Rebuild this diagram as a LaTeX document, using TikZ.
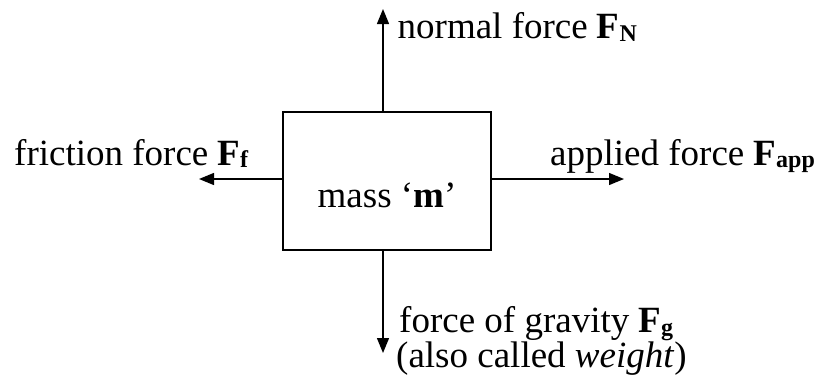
\documentclass[tikz,border=0pt]{standalone}
\usepackage{fontspec}
\setmainfont{Liberation Serif}
\usetikzlibrary{arrows.meta}
\newcommand{\forcesym}[1]{\textbf{F}\raisebox{-2.5pt}{\fontsize{24}{24}\selectfont\bfseries #1}}
\begin{document}
\begin{tikzpicture}[x=1pt,y=-1pt,
  lbl/.style={inner sep=0pt,anchor=base west,font=\fontsize{37}{31.7}\selectfont},
  force/.style={line width=1.3pt,-{Triangle[length=15pt,width=12pt]}},
  massbox/.style={draw,line width=1.3pt,minimum width=208pt,minimum height=138pt,inner sep=0pt}]
\useasboundingbox (0,0) rectangle (815,386);
\node[massbox] (m) at (387,181) {};
\node[lbl,anchor=base] (mlabel) at (387,207) {mass ‘\textbf{m}’};
\coordinate (tipN) at (383,9);
\coordinate (tipG) at (383,353);
\coordinate (tipF) at (199,179);
\coordinate (tipA) at (624,179);
\draw[force] ([xshift=-4pt]m.north) -- (tipN);
\draw[force] ([xshift=-4pt]m.south) -- (tipG);
\draw[force] ([yshift=2pt]m.west) -- (tipF);
\draw[force] ([yshift=2pt]m.east) -- (tipA);
\node[lbl] (nlabel) at (397.5,38.5) {normal force \forcesym{N}};
\node[lbl] (flabel) at (14,165) {friction force \forcesym{f}};
\node[lbl] (alabel) at (550,165) {applied force \forcesym{app}};
\node[lbl,align=left] (glabel) at (399,367.2) {force of gravity \forcesym{g}\\\hspace*{-3pt}(also called \textit{weight})};
\end{tikzpicture}
\end{document}
